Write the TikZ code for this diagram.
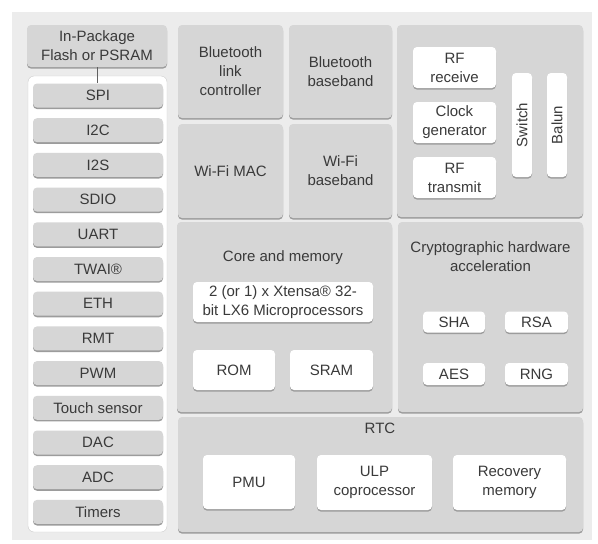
\documentclass[tikz,border=0pt]{standalone}
\usepackage{fontspec}
\setmainfont{Liberation Sans}
\usetikzlibrary{shadows}
\definecolor{bgc}{HTML}{ECECEC}
\definecolor{tilec}{HTML}{D6D6D6}
\definecolor{shc}{HTML}{9C9C9C}
\definecolor{txt}{HTML}{3A3A3A}
\tikzset{
  base/.style={rectangle, rounded corners=4pt, inner sep=1pt, align=center, text=txt,
    font=\fontsize{15}{19}\selectfont},
  tile/.style={base, fill=tilec, drop shadow={shadow xshift=0pt, shadow yshift=-1.6pt, fill=shc, opacity=1}},
  wbox/.style={base, fill=white, drop shadow={shadow xshift=0pt, shadow yshift=-1.6pt, fill=shc, opacity=1}},
  item/.style={tile, minimum width=130pt, minimum height=24pt},
  lbl/.style={text=txt, align=center, inner sep=0pt, font=\fontsize{15}{19}\selectfont},
  link/.style={draw=txt!80, line width=0.8pt}
}
\begin{document}
\begin{tikzpicture}[x=1pt,y=-1pt]
\useasboundingbox (0,0) rectangle (598,544);
\fill[bgc] (12,12) rectangle (592,540);

% left column
\node[tile, minimum width=140pt, minimum height=42pt] (flash) at (97,46) {In-Package\\Flash or PSRAM};
\node[rectangle, rounded corners=6pt, fill=white, draw=shc!50, minimum width=139pt, minimum height=456pt] (panel) at (97.5,304) {};
\node[item] (spi) at (98,95.5) {SPI};
\node[item] (i2c) at (98,130.2) {I2C};
\node[item] (i2s) at (98,164.9) {I2S};
\node[item] (sdio) at (98,199.6) {SDIO};
\node[item] (uart) at (98,234.3) {UART};
\node[item] (twai) at (98,269) {TWAI®};
\node[item] (eth) at (98,303.7) {ETH};
\node[item] (rmt) at (98,338.4) {RMT};
\node[item] (pwm) at (98,373.1) {PWM};
\node[item] (touch) at (98,407.8) {Touch sensor};
\node[item] (dac) at (98,442.5) {DAC};
\node[item] (adc) at (98,477.2) {ADC};
\node[item] (timers) at (98,511.9) {Timers};
\draw[link] (flash.south) -- (flash.south |- spi.north);

% radio tiles
\node[tile, minimum width=105pt, minimum height=93pt] (btlc) at (230.5,71.5) {Bluetooth\\link\\controller};
\node[tile, minimum width=103pt, minimum height=93pt] (btbb) at (340.5,71.5) {Bluetooth\\baseband};
\node[tile, minimum width=105pt, minimum height=94pt] (wmac) at (230.5,171) {Wi-Fi MAC};
\node[tile, minimum width=103pt, minimum height=94pt] (wbb) at (340.5,171) {Wi-Fi\\baseband};

% RF block
\node[tile, minimum width=186pt, minimum height=192pt] (rf) at (490,121) {};
\node[wbox, minimum width=83pt, minimum height=41pt] (rfrx) at (454.5,67.5) {RF\\receive};
\node[wbox, minimum width=83pt, minimum height=41pt] (clk) at (454.5,122.5) {Clock\\generator};
\node[wbox, minimum width=83pt, minimum height=41pt] (rftx) at (454.5,177.5) {RF\\transmit};
\node[wbox, minimum width=20pt, minimum height=104pt] (sw) at (522,125) {};
\node[lbl, rotate=90] at (sw) {Switch};
\node[wbox, minimum width=20pt, minimum height=104pt] (balun) at (557,125) {};
\node[lbl, rotate=90] at (balun) {Balun};

% core and memory
\node[tile, minimum width=215pt, minimum height=190pt] (core) at (284.5,317) {};
\node[lbl] at (283,258) {Core and memory};
\node[wbox, minimum width=180pt, minimum height=40pt] (cpu) at (283,302) {2 (or 1) x Xtensa® 32-\\bit LX6 Microprocessors};
\node[wbox, minimum width=82pt, minimum height=40pt] (rom) at (234,370) {ROM};
\node[wbox, minimum width=83pt, minimum height=40pt] (sram) at (331.5,370) {SRAM};

% crypto
\node[tile, minimum width=185pt, minimum height=190pt] (crypto) at (490.5,317) {};
\node[lbl] at (490.5,257) {Cryptographic hardware\\acceleration};
\node[wbox, minimum width=62pt, minimum height=21pt] (sha) at (454,322) {SHA};
\node[wbox, minimum width=63pt, minimum height=21pt] (rsa) at (536.5,322) {RSA};
\node[wbox, minimum width=62pt, minimum height=22pt] (aes) at (454,374) {AES};
\node[wbox, minimum width=63pt, minimum height=22pt] (rng) at (536.5,374) {RNG};

% RTC
\node[tile, minimum width=405pt, minimum height=115pt] (rtc) at (380.5,474.5) {};
\node[lbl] at (380,428) {RTC};
\node[wbox, minimum width=92pt, minimum height=54pt] (pmu) at (249,482) {PMU};
\node[wbox, minimum width=115pt, minimum height=55pt] (ulp) at (374.5,482.5) {ULP\\coprocessor};
\node[wbox, minimum width=113pt, minimum height=55pt] (rec) at (509.5,482.5) {Recovery\\memory};
\end{tikzpicture}
\end{document}
